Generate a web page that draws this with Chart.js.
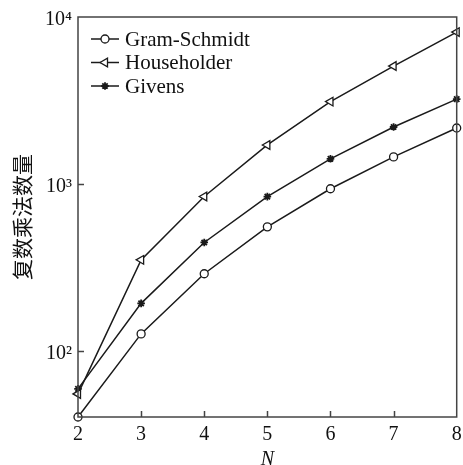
<!DOCTYPE html>
<html>
<head>
<meta charset="utf-8">
<script src="https://cdn.jsdelivr.net/npm/chart.js"></script>
<style>
  body { margin: 0; background: #fff; }
</style>
</head>
<body>
<canvas id="myChart" width="463" height="465"></canvas>
<script>
// data
var nValues = ['2', '3', '4', '5', '6', '7', '8'];
var gramSchmidt = [40, 126, 289, 552, 934, 1450, 2160];
var householder = [55, 350, 840, 1710, 3110, 5080, 8120];
var givens = [59, 192, 445, 838, 1412, 2190, 3220];
var yTicks = [100, 1000, 10000];
var yTickLabels = ['10\u00b2', '10\u00b3', '10\u2074'];

var lineColor = '#1a1a1a';
var frameColor = '#444';

function makeDataset(label, values, style, radius, rotation) {
  return {
    label: label,
    data: values,
    borderColor: lineColor,
    borderWidth: 1.5,
    backgroundColor: '#fff',
    pointStyle: style,
    pointRadius: radius,
    pointRotation: rotation,
    pointBorderWidth: style == 'star' ? 1.8 : 1.3,
    pointBorderColor: lineColor,
    pointBackgroundColor: '#fff',
    tension: 0,
    fill: false,
    clip: false
  };
}

// frame, inward ticks and the legend inside the plot
var framePlugin = {
  id: 'frame',
  afterDraw: function(chart) {
    var ctx = chart.ctx;
    var area = chart.chartArea;
    var xs = chart.scales.x, ys = chart.scales.y;
    ctx.save();
    ctx.strokeStyle = frameColor;
    ctx.lineWidth = 1.5;
    ctx.strokeRect(area.left, area.top, area.right - area.left, area.bottom - area.top);

    ctx.beginPath();
    for (var i = 1; i < nValues.length - 1; i++) {
      var px = Math.round(xs.getPixelForValue(i)) + 0.5;
      ctx.moveTo(px, area.bottom);
      ctx.lineTo(px, area.bottom - 6);
    }
    for (var j = 0; j < yTicks.length - 1; j++) {
      var py = Math.round(ys.getPixelForValue(yTicks[j])) + 0.5;
      ctx.moveTo(area.left, py);
      ctx.lineTo(area.left + 6, py);
    }
    ctx.stroke();

    // legend
    var x0 = area.left + 13, x1 = area.left + 41;
    ctx.font = '21px "Liberation Serif", "Times New Roman", serif';
    ctx.textBaseline = 'middle';
    ctx.fillStyle = '#111';
    chart.data.datasets.forEach(function(ds, k) {
      var y = area.top + 22 + k * 23.5;
      ctx.strokeStyle = lineColor;
      ctx.lineWidth = 1.5;
      ctx.beginPath();
      ctx.moveTo(x0, y);
      ctx.lineTo(x1, y);
      ctx.stroke();
      if (Chart.helpers && Chart.helpers.drawPoint) {
        ctx.fillStyle = '#fff';
        ctx.strokeStyle = lineColor;
        ctx.lineWidth = ds.pointBorderWidth;
        Chart.helpers.drawPoint(ctx, {
          pointStyle: ds.pointStyle,
          radius: ds.pointRadius,
          rotation: ds.pointRotation,
          borderWidth: ds.pointBorderWidth
        }, (x0 + x1) / 2, y);
      }
      ctx.fillStyle = '#111';
      ctx.fillText(ds.label, x1 + 6, y + 1);
    });
    ctx.restore();
  }
};

var ctx = document.getElementById('myChart').getContext('2d');
window.myChart = new Chart(ctx, {
  type: 'line',
  data: {
    labels: nValues,
    datasets: [
      makeDataset('Gram-Schmidt', gramSchmidt, 'circle', 4, 0),
      makeDataset('Householder', householder, 'triangle', 5, -90),
      makeDataset('Givens', givens, 'star', 3.8, 0)
    ]
  },
  options: {
    responsive: false,
    animation: false,
    layout: { padding: { left: 0, right: 6, top: 17, bottom: 0 } },
    plugins: {
      legend: { display: false },
      tooltip: { enabled: false }
    },
    scales: {
      x: {
        type: 'category',
        offset: false,
        grid: { display: false, drawTicks: false },
        border: { display: false },
        ticks: {
          color: '#111',
          padding: 6,
          maxRotation: 0,
          autoSkip: false,
          font: { family: '"Liberation Serif", "Times New Roman", serif', size: 20 }
        },
        title: {
          display: true,
          text: 'N',
          color: '#111',
          padding: { top: 0, bottom: -5 },
          font: { family: '"Liberation Serif", "Times New Roman", serif', size: 20, style: 'italic', lineHeight: 1 }
        },
        afterFit: function(scale) {
          scale.height = 48;
          scale.paddingLeft = 0;
          scale.paddingRight = 0;
        }
      },
      y: {
        type: 'logarithmic',
        min: 40,
        max: 10000,
        grid: { display: false, drawTicks: false },
        border: { display: false },
        afterBuildTicks: function(scale) {
          scale.ticks = yTicks.map(function(v) { return { value: v }; });
        },
        ticks: {
          color: '#111',
          padding: 6,
          labelOffset: 3,
          font: { family: '"Liberation Serif", "Times New Roman", serif', size: 20 },
          callback: function(value) {
            var k = yTicks.indexOf(value);
            return k >= 0 ? yTickLabels[k] : '';
          }
        },
        title: {
          display: true,
          text: '复数乘法数量',
          color: '#111',
          padding: { top: 9, bottom: 0 },
          font: { family: '"Noto Sans CJK SC", sans-serif', size: 21, lineHeight: 1.2 }
        },
        afterFit: function(scale) {
          scale.width = 78;
          scale.paddingTop = 0;
          scale.paddingBottom = 0;
        }
      }
    }
  },
  plugins: [framePlugin]
});
</script>
</body>
</html>
